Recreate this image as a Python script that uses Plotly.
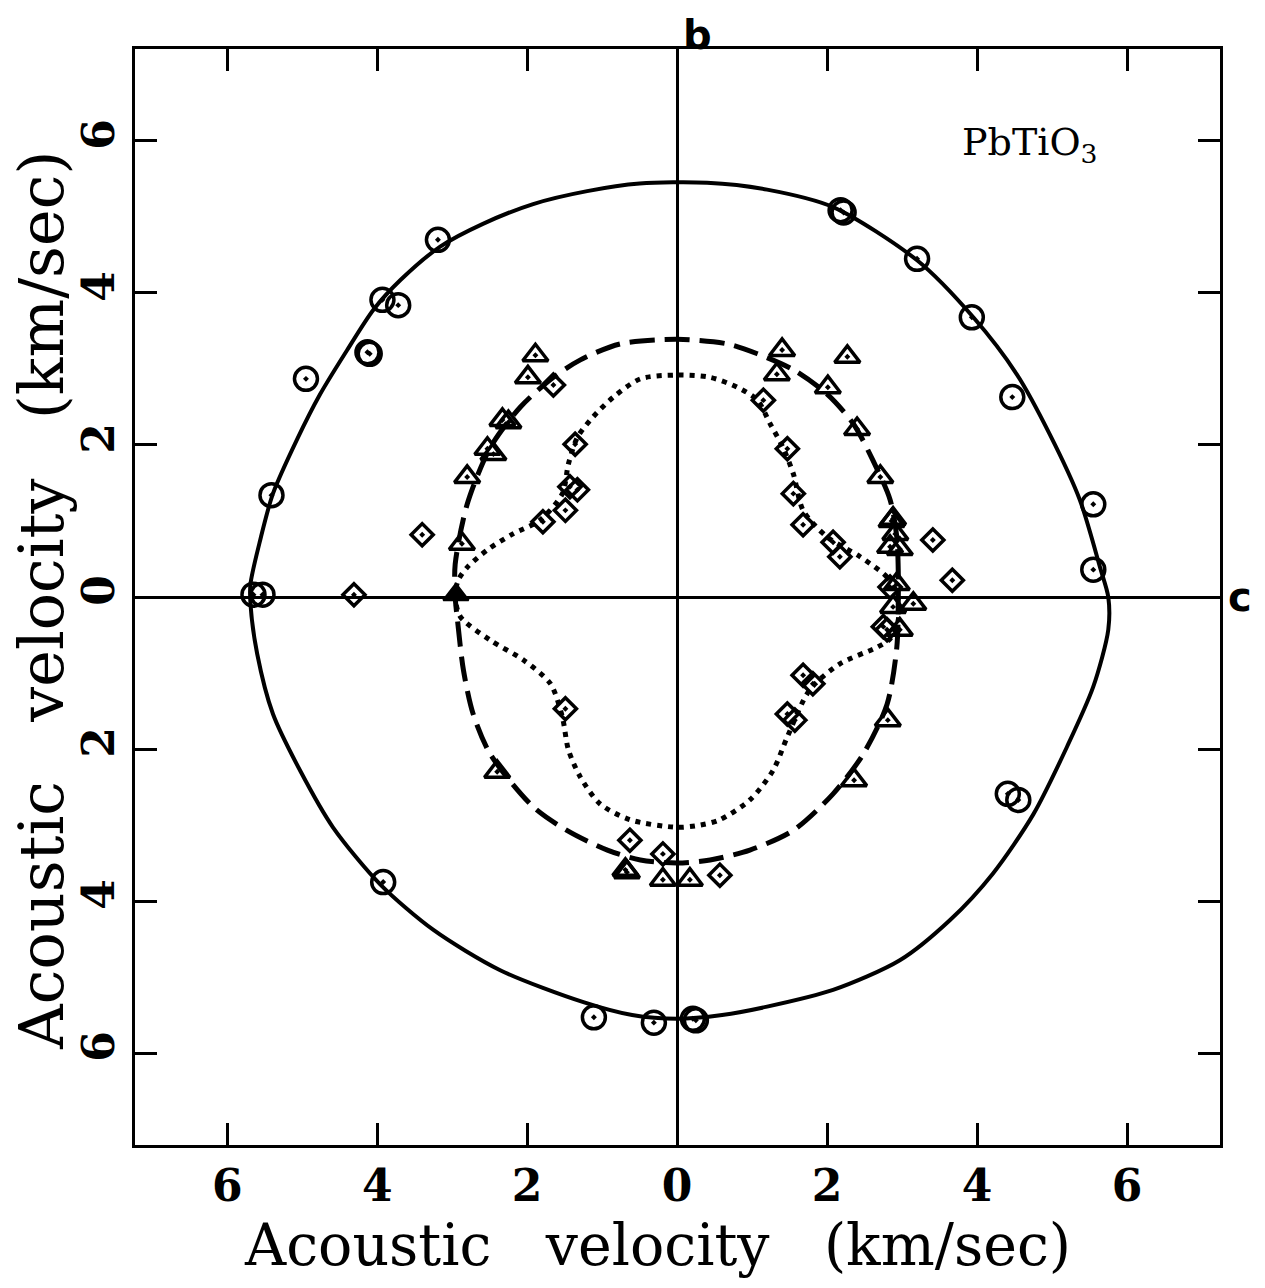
import plotly.graph_objects as go

# Acoustic velocity surfaces of PbTiO3 in the b-c plane (km/sec)

# Quasi-longitudinal branch: calculated curve (closed)
ql_curve_x = [5.75, 5.64, 5.37, 4.97, 4.53, 3.95, 3.20, 2.08, 1.20, 0.40, -0.50, -1.20, -1.92, -2.59,
              -3.16, -3.69, -4.05, -4.40, -4.76, -5.07, -5.39, -5.56, -5.69, -5.69, -5.60, -5.39,
              -5.03, -4.59, -3.96, -3.25, -2.36, -1.25, -0.60, 0.00, 0.60, 1.20, 2.08, 2.97, 3.64,
              4.21, 4.75, 5.20, 5.55, 5.75, 5.75]
ql_curve_y = [0.00, 0.39, 1.28, 2.14, 2.93, 3.68, 4.43, 5.13, 5.36, 5.45, 5.44, 5.34, 5.17, 4.91,
              4.61, 4.17, 3.78, 3.25, 2.67, 2.07, 1.36, 0.75, 0.17, -0.09, -0.75, -1.54,
              -2.28, -3.03, -3.78, -4.38, -4.91, -5.33, -5.50, -5.55, -5.50, -5.39, -5.17, -4.78,
              -4.25, -3.64, -2.86, -1.97, -1.18, -0.43, 0.00]

# Fast quasi-transverse branch: calculated curve (closed)
qt1_curve_x = [2.95, 2.95, 2.93, 2.84, 2.61, 2.35, 2.00, 1.55, 1.07, 0.67, 0.00, -0.76, -1.29, -1.65,
               -2.09, -2.49, -2.80, -2.96, -2.96, -2.93, -2.85, -2.72, -2.49, -1.92, -1.47, -0.93,
               -0.49, 0.00, 0.44, 0.97, 1.55, 2.08, 2.48, 2.80, 2.93, 2.95]
qt1_curve_y = [0.00, 0.30, 0.79, 1.28, 1.80, 2.28, 2.67, 2.99, 3.20, 3.33, 3.39, 3.33, 3.12, 2.89,
               2.50, 1.97, 1.22, 0.43, 0.00, -0.30, -0.96, -1.54, -2.07, -2.76, -3.07, -3.33,
               -3.46, -3.50, -3.46, -3.33, -3.07, -2.59, -2.07, -1.41, -0.66, 0.00]

# Slow quasi-transverse branch: calculated curve (closed)
qt2_curve_x = [2.93, 2.80, 2.44, 2.00, 1.68, 1.55, 1.41, 1.24, 1.07, 0.80, 0.44, 0.00, -0.49, -0.85,
               -1.12, -1.33, -1.45, -1.53, -1.83, -2.19, -2.53, -2.80, -2.92, -2.96, -2.89, -2.49,
               -2.05, -1.69, -1.53, -1.45, -1.29, -1.03, -0.63, 0.00, 0.31, 0.57, 0.97, 1.28,
               1.47, 1.77, 2.17, 2.67, 2.84, 2.95, 2.93]
qt2_curve_y = [0.05, 0.26, 0.53, 0.79, 1.14, 1.62, 1.97, 2.28, 2.59, 2.76, 2.89, 2.92, 2.87, 2.63,
               2.37, 2.10, 1.75, 1.36, 1.01, 0.83, 0.62, 0.39, 0.22, 0.00, -0.26, -0.57,
               -0.83, -1.14, -1.58, -2.01, -2.37, -2.72, -2.93, -3.03, -3.00, -2.93, -2.67, -2.28,
               -1.84, -1.22, -0.88, -0.66, -0.55, -0.30, 0.05]

# Measured velocities: quasi-longitudinal (circles)
ql_meas_x = [-3.19, -3.93, -3.72, -4.13, -4.10, -4.95, -5.41, -5.65, -5.53, -3.92, -1.11, -0.31,
             0.21, 0.25, 2.18, 2.22, 3.20, 3.93, 4.47, 5.55, 5.55, 4.41, 4.55]
ql_meas_y = [4.70, 3.91, 3.84, 3.22, 3.20, 2.87, 1.34, 0.03, 0.03, -3.75, -5.53, -5.60,
             -5.55, -5.57, 5.09, 5.06, 4.45, 3.68, 2.63, 1.22, 0.36, -2.59, -2.67]

# Measured velocities: fast quasi-transverse (triangles)
qt1_meas_x = [-1.89, -1.99, -2.33, -2.25, -2.53, -2.45, -2.80, -2.87, -2.40, -0.69, -0.67, -0.19,
              0.17, 1.40, 1.33, 2.27, 2.01, 2.40, 2.71, 2.88, 2.86, 2.91, 2.84, 2.97, 2.93, 3.15,
              2.88, 2.97, 2.81, 2.36]
qt1_meas_y = [3.18, 2.89, 2.33, 2.30, 1.95, 1.88, 1.58, 0.70, -2.30, -3.59, -3.62, -3.72,
              -3.72, 3.25, 2.93, 3.16, 2.76, 2.21, 1.58, 1.03, 1.00, 0.83, 0.66, 0.63, 0.17, -0.09,
              -0.13, -0.43, -1.62, -2.41]
qt1_solid_x = [-2.95]
qt1_solid_y = [0.03]

# Measured velocities: slow quasi-transverse (diamonds)
qt2_meas_x = [-1.65, -1.36, -1.43, -1.33, -1.49, -1.79, -3.40, -4.31, -1.49, -0.63, -0.19, 0.57,
              1.15, 1.47, 1.55, 1.68, 2.08, 2.17, 3.41, 3.67, 2.84, 2.75, 2.80, 1.68, 1.81,
              1.47, 1.57]
qt2_meas_y = [2.79, 2.01, 1.45, 1.41, 1.14, 0.99, 0.82, 0.03, -1.47, -3.20, -3.38, -3.66,
              2.59, 1.95, 1.36, 0.95, 0.72, 0.53, 0.75, 0.22, 0.13, -0.39, -0.43, -1.03, -1.14,
              -1.54, -1.62]

tick_vals = [-6, -4, -2, 0, 2, 4, 6]
tick_text = ["6", "4", "2", "0", "2", "4", "6"]

SERIF = "DejaVu Serif"
GAP = "\u00a0" * 3
axis_title = f"Acoustic{GAP}velocity{GAP}(km/sec)"

fig = go.Figure()

fig.add_trace(go.Scatter(x=ql_curve_x, y=ql_curve_y, mode="lines",
                         line=dict(color="black", width=4, shape="spline", smoothing=0.8)))
fig.add_trace(go.Scatter(x=qt1_curve_x, y=qt1_curve_y, mode="lines",
                         line=dict(color="black", width=5, shape="spline", smoothing=0.8,
                                   dash="25px,10px")))
fig.add_trace(go.Scatter(x=qt2_curve_x, y=qt2_curve_y, mode="lines",
                         line=dict(color="black", width=5, shape="spline", smoothing=0.8,
                                   dash="5px,6px")))

fig.add_trace(go.Scatter(x=ql_meas_x, y=ql_meas_y, mode="markers",
                         marker=dict(symbol="circle-open-dot", size=23, color="black",
                                     line=dict(width=3.5, color="black"))))
fig.add_trace(go.Scatter(x=qt1_meas_x, y=qt1_meas_y, mode="markers",
                         marker=dict(symbol="triangle-up-open-dot", size=22, color="black",
                                     line=dict(width=3.5, color="black"))))
fig.add_trace(go.Scatter(x=qt1_solid_x, y=qt1_solid_y, mode="markers",
                         marker=dict(symbol="triangle-up", size=22, color="black",
                                     line=dict(width=2, color="black"))))
fig.add_trace(go.Scatter(x=qt2_meas_x, y=qt2_meas_y, mode="markers",
                         marker=dict(symbol="diamond-open-dot", size=17, color="black",
                                     line=dict(width=3.5, color="black"))))

axis_common = dict(
    tickvals=tick_vals, ticktext=tick_text,
    ticks="inside", ticklen=22, tickwidth=3, tickcolor="black",
    showline=True, linewidth=3, linecolor="black", mirror="ticks",
    showgrid=False, zeroline=True, zerolinewidth=2.5, zerolinecolor="black",
    tickfont=dict(family=SERIF, size=44, color="black", weight="bold"),
)

fig.update_xaxes(range=[-7.23, 7.24], **axis_common)
fig.update_yaxes(range=[-7.21, 7.21], tickangle=-90, **axis_common)

annotations = [
    dict(text=axis_title, xref="paper", yref="paper", x=0.482, y=-0.091,
         showarrow=False, font=dict(family=SERIF, size=57, color="black"),
         xanchor="center", yanchor="middle"),
    dict(text=axis_title, xref="paper", yref="paper", x=-0.086, y=0.497,
         showarrow=False, textangle=-90, font=dict(family=SERIF, size=62, color="black"),
         xanchor="center", yanchor="middle"),
    dict(text="b", xref="x", yref="paper", x=0.27, y=1.0, yshift=14, showarrow=False,
         font=dict(family="DejaVu Sans", size=40, color="black", weight="bold"),
         xanchor="center", yanchor="middle"),
    dict(text="c", xref="paper", yref="y", x=1.0, xshift=20, y=0.0, showarrow=False,
         font=dict(family="DejaVu Sans", size=40, color="black", weight="bold"),
         xanchor="center", yanchor="middle"),
    dict(text="PbTiO<sub>3</sub>", xref="x", yref="y", x=4.7, y=5.95, showarrow=False,
         font=dict(family=SERIF, size=38, color="black"),
         xanchor="center", yanchor="middle"),
]

fig.update_layout(
    width=1265, height=1288,
    margin=dict(l=135, r=45, t=49, b=143),
    paper_bgcolor="white", plot_bgcolor="white",
    showlegend=False,
    annotations=annotations,
)

fig.write_html("out.html")
